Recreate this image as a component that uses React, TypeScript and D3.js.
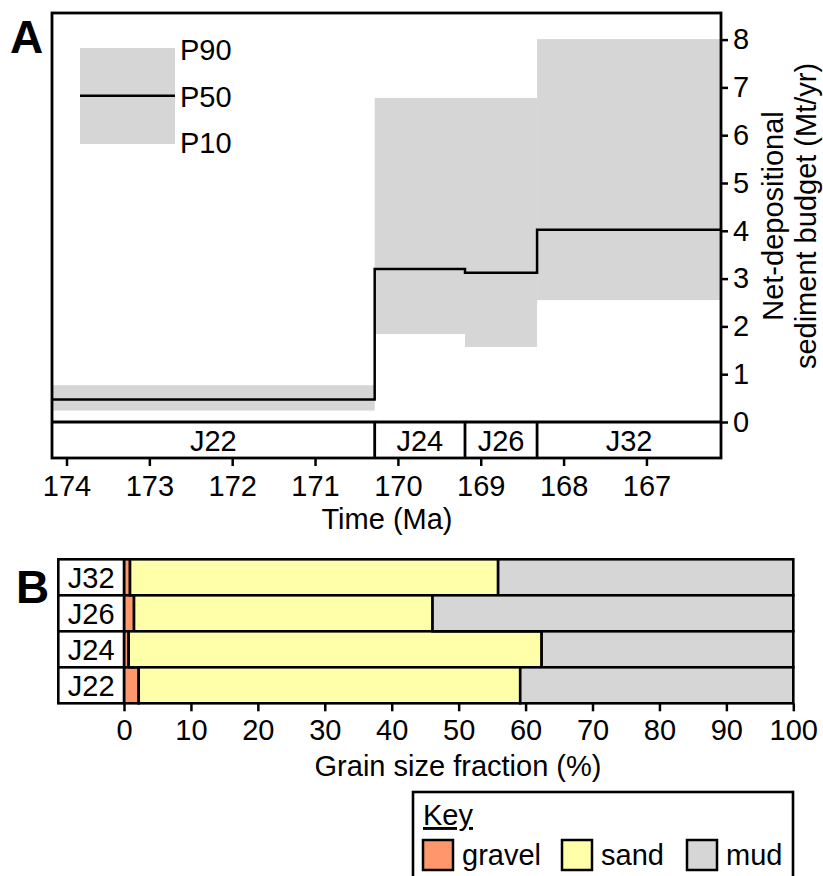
import React, { useEffect, useRef } from "react";
import * as d3 from "d3";

// panel A: net-depositional budget per sequence (Mt/yr)
const units = ["J22", "J24", "J26", "J32"];
const unitStart = [174.175, 170.28, 169.19, 168.32]; // Ma
const unitEnd = [170.28, 169.19, 168.32, 166.1];
const p10 = [0.24, 1.84, 1.57, 2.55];
const p50 = [0.47, 3.2, 3.12, 4.02];
const p90 = [0.77, 6.78, 6.78, 8.01];
const timeTicks = [174, 173, 172, 171, 170, 169, 168, 167];
const budgetTicks = [0, 1, 2, 3, 4, 5, 6, 7, 8];

// panel B: grain size fractions (%)
const grainUnits = ["J32", "J26", "J24", "J22"];
const gravel = [0.9, 1.5, 0.7, 2.2];
const sand = [55.0, 44.6, 61.7, 57.0];
const mud = [44.1, 53.9, 37.6, 40.8];
const pctTicks = [0, 10, 20, 30, 40, 50, 60, 70, 80, 90, 100];
const fractions = ["gravel", "sand", "mud"];
const fracColors = ["#fe976b", "#ffffaa", "#d6d6d6"];

const FONT = "Liberation Sans, Arial, sans-serif";
const FS = 29;

const App = () => {
  const ref = useRef<SVGSVGElement>(null);

  useEffect(() => {
    const svg = d3.select(ref.current);
    svg.selectAll("*").remove();

    // ---------- panel A ----------
    const aLeft = 52, aRight = 721, aTop = 13, aZero = 422, aBottom = 458;
    const x = d3.scaleLinear().domain([174.175, 166.1]).range([aLeft, aRight]);
    const y = d3.scaleLinear().domain([0, 8]).range([aZero, 39.6]);

    const a = svg.append("g");

    // P10-P90 bands
    a.selectAll("rect.band")
      .data(units)
      .join("rect")
      .attr("class", "band")
      .attr("x", (d, i) => x(unitStart[i]))
      .attr("width", (d, i) => x(unitEnd[i]) - x(unitStart[i]))
      .attr("y", (d, i) => y(p90[i]))
      .attr("height", (d, i) => y(p10[i]) - y(p90[i]))
      .attr("fill", "#d6d6d6");

    // P50 step line
    const steps: [number, number][] = units.map((d, i) => [unitStart[i], p50[i]]);
    steps.push([unitEnd[units.length - 1], p50[units.length - 1]]);
    a.append("path")
      .attr("d", d3.line<[number, number]>().x(d => x(d[0])).y(d => y(d[1])).curve(d3.curveStepAfter)(steps))
      .attr("fill", "none")
      .attr("stroke", "#000")
      .attr("stroke-width", 2.5);

    // legend
    a.append("rect").attr("x", 80).attr("y", 48).attr("width", 95).attr("height", 96).attr("fill", "#d6d6d6");
    a.append("line").attr("x1", 80).attr("x2", 175).attr("y1", 95.7).attr("y2", 95.7)
      .attr("stroke", "#000").attr("stroke-width", 2.5);
    [["P90", 60], ["P50", 106.5], ["P10", 152.5]].forEach(([t, yy]) => {
      a.append("text").attr("x", 180).attr("y", yy as number).text(t as string)
        .attr("font-size", FS).attr("font-family", FONT);
    });

    // sequence strip
    a.append("line").attr("x1", aLeft).attr("x2", aRight).attr("y1", aZero).attr("y2", aZero)
      .attr("stroke", "#000").attr("stroke-width", 2.8);
    a.selectAll("line.div")
      .data(unitStart.slice(1))
      .join("line")
      .attr("class", "div")
      .attr("x1", d => x(d)).attr("x2", d => x(d))
      .attr("y1", aZero).attr("y2", aBottom)
      .attr("stroke", "#000").attr("stroke-width", 2.8);
    a.selectAll("text.unit")
      .data(units)
      .join("text")
      .attr("class", "unit")
      .attr("x", (d, i) => (x(unitStart[i]) + x(unitEnd[i])) / 2)
      .attr("y", 451)
      .attr("text-anchor", "middle")
      .attr("font-size", FS)
      .attr("font-family", FONT)
      .text(d => d);

    // frame
    a.append("rect").attr("x", aLeft).attr("y", aTop).attr("width", aRight - aLeft).attr("height", aBottom - aTop)
      .attr("fill", "none").attr("stroke", "#000").attr("stroke-width", 2.8);

    // time axis
    const xAxis = a.append("g").attr("transform", `translate(0,${aBottom})`)
      .call(d3.axisBottom(x).tickValues(timeTicks).tickSize(8).tickSizeOuter(0).tickPadding(9));
    xAxis.select(".domain").remove();
    xAxis.selectAll("line").attr("stroke-width", 2.5);
    xAxis.selectAll("text").attr("font-size", FS).attr("font-family", FONT).attr("fill", "#000");
    a.append("text").attr("x", 387).attr("y", 529).attr("text-anchor", "middle")
      .attr("font-size", FS).attr("font-family", FONT).text("Time (Ma)");

    // budget axis
    const yAxis = a.append("g").attr("transform", `translate(${aRight},0)`)
      .call(d3.axisRight(y).tickValues(budgetTicks).tickSize(7).tickSizeOuter(0).tickPadding(5));
    yAxis.select(".domain").remove();
    yAxis.selectAll("line").attr("stroke-width", 2.5);
    yAxis.selectAll("text").attr("font-size", FS).attr("font-family", FONT).attr("fill", "#000");
    const yl = a.append("text").attr("transform", "translate(790,216) rotate(-90)")
      .attr("text-anchor", "middle").attr("font-size", FS).attr("font-family", FONT);
    yl.append("tspan").attr("x", 0).attr("dy", -7).text("Net-depositional");
    yl.append("tspan").attr("x", 0).attr("dy", 33).text("sediment budget (Mt/yr)");

    svg.append("text").attr("x", 10).attr("y", 53).attr("font-size", 46).attr("font-weight", "bold")
      .attr("font-family", FONT).text("A");

    // ---------- panel B ----------
    const bx = d3.scaleLinear().domain([0, 100]).range([124, 793.3]);
    const by = d3.scaleBand().domain(grainUnits).range([559.3, 703.3]);
    const b = svg.append("g");

    const rows = grainUnits.map((u, i) => ({ unit: u, gravel: gravel[i], sand: sand[i], mud: mud[i] }));
    const stacked = d3.stack<any>().keys(fractions)(rows);

    b.selectAll("g.layer")
      .data(stacked)
      .join("g")
      .attr("class", "layer")
      .attr("fill", (d, i) => fracColors[i])
      .selectAll("rect")
      .data(d => d)
      .join("rect")
      .attr("x", d => bx(d[0]))
      .attr("width", d => bx(d[1]) - bx(d[0]))
      .attr("y", d => by(d.data.unit)!)
      .attr("height", by.bandwidth())
      .attr("stroke", "#000")
      .attr("stroke-width", 2.6);

    // label boxes
    b.selectAll("rect.lab")
      .data(grainUnits)
      .join("rect")
      .attr("class", "lab")
      .attr("x", 58.3)
      .attr("width", bx(0) - 58.3)
      .attr("y", d => by(d)!)
      .attr("height", by.bandwidth())
      .attr("fill", "#fff").attr("stroke", "#000").attr("stroke-width", 2.6);
    b.selectAll("text.lab")
      .data(grainUnits)
      .join("text")
      .attr("class", "lab")
      .attr("x", (58.3 + bx(0)) / 2)
      .attr("y", d => by(d)! + by.bandwidth() / 2 + 10.5)
      .attr("text-anchor", "middle")
      .attr("font-size", FS).attr("font-family", FONT)
      .text(d => d);

    const bAxis = b.append("g").attr("transform", "translate(0,703.3)")
      .call(d3.axisBottom(bx).tickValues(pctTicks).tickSize(8).tickSizeOuter(0).tickPadding(8));
    bAxis.select(".domain").remove();
    bAxis.selectAll("line").attr("stroke-width", 2.5);
    bAxis.selectAll("text").attr("font-size", FS).attr("font-family", FONT).attr("fill", "#000");
    b.append("text").attr("x", 458).attr("y", 776).attr("text-anchor", "middle")
      .attr("font-size", FS).attr("font-family", FONT).text("Grain size fraction (%)");

    svg.append("text").attr("x", 16).attr("y", 603).attr("font-size", 46).attr("font-weight", "bold")
      .attr("font-family", FONT).text("B");

    // key
    const k = svg.append("g");
    k.append("rect").attr("x", 413).attr("y", 792).attr("width", 380).attr("height", 110)
      .attr("fill", "#fff").attr("stroke", "#000").attr("stroke-width", 2.6);
    k.append("text").attr("x", 423).attr("y", 825).attr("font-size", FS).attr("font-family", FONT)
      .attr("text-decoration", "underline").text("Key");
    const swX = [423, 562, 687];
    fractions.forEach((f, i) => {
      k.append("rect").attr("x", swX[i]).attr("y", 840).attr("width", 30).attr("height", 30)
        .attr("fill", fracColors[i]).attr("stroke", "#000").attr("stroke-width", 2.5);
      k.append("text").attr("x", swX[i] + 39).attr("y", 865).attr("font-size", FS)
        .attr("font-family", FONT).text(f);
    });
  }, []);

  return (
    <svg
      ref={ref}
      width={823}
      height={876}
      style={{ position: "absolute", left: 0, top: 0, background: "#fff" }}
    />
  );
};

export default App;
